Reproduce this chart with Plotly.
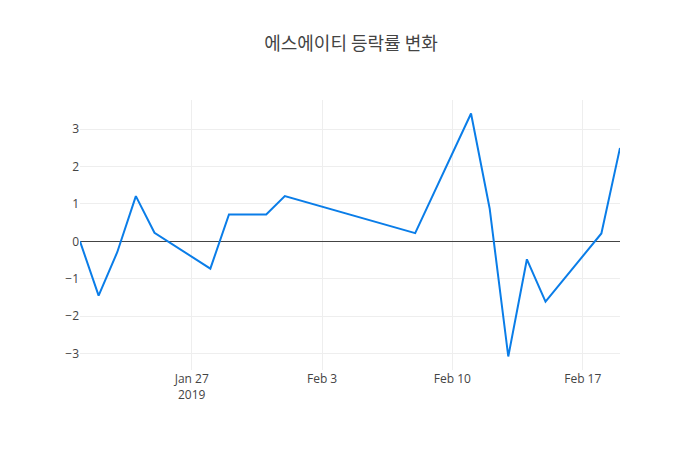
import plotly.graph_objects as go

dates = [
    "2019-01-21", "2019-01-22", "2019-01-23", "2019-01-24", "2019-01-25",
    "2019-01-28", "2019-01-29", "2019-01-31", "2019-02-01",
    "2019-02-08", "2019-02-11", "2019-02-12", "2019-02-13", "2019-02-14",
    "2019-02-15", "2019-02-18", "2019-02-19",
]
change_rate = [
    0.0, -1.45, -0.29, 1.21, 0.23,
    -0.73, 0.72, 0.72, 1.21,
    0.22, 3.42, 0.88, -3.08, -0.48,
    -1.61, 0.21, 2.50,
]

fig = go.Figure(
    data=go.Scatter(
        x=dates,
        y=change_rate,
        mode="lines",
        line=dict(color="#0a7de8", width=2),
    )
)

# page body adds 8px offset, so shift margins to line the plot area up
fig.update_layout(
    template="none",
    title=dict(text="에스에이티 등락률 변화", x=0.49, xanchor="center",
               y=0.92, yanchor="middle",
               font=dict(family="Noto Sans CJK KR", size=18, color="#444")),
    width=700,
    height=450,
    margin=dict(l=72, r=88, t=92, b=88),
    font=dict(family="Open Sans", color="#444"),
    xaxis=dict(gridcolor="#eee", zeroline=False),
    yaxis=dict(gridcolor="#eee", zerolinecolor="#444", zerolinewidth=1),
    showlegend=False,
)

fig.write_html("out.html")
